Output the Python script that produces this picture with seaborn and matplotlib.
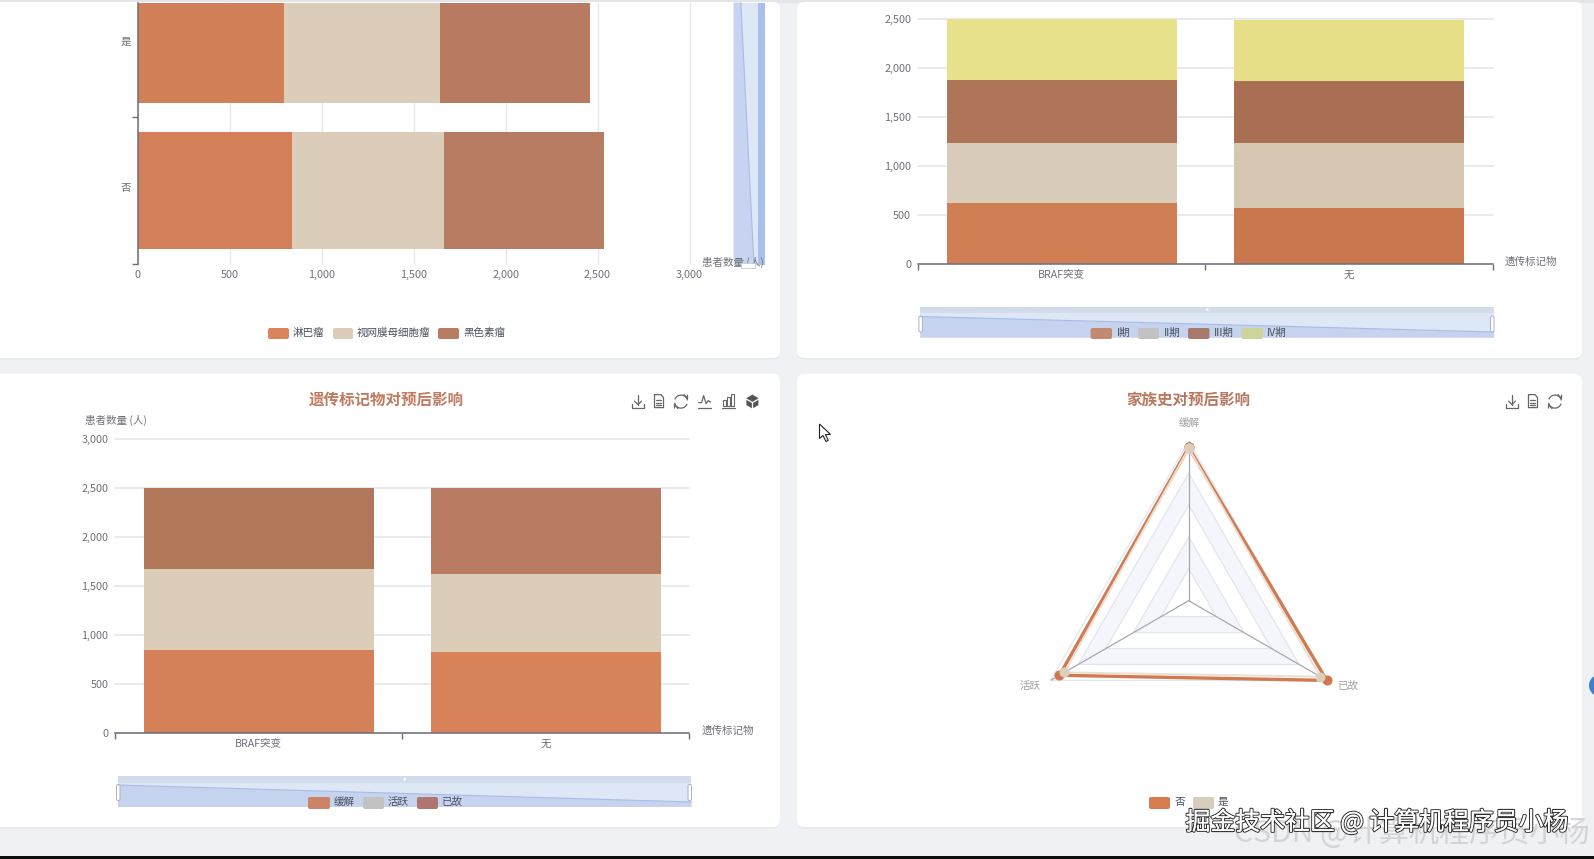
import numpy as np
import pandas as pd
import matplotlib
matplotlib.use("Agg")
import matplotlib.pyplot as plt
import matplotlib.patheffects as pe
from matplotlib.patches import FancyBboxPatch, Polygon, Rectangle, Arc, Circle
from matplotlib.transforms import ScaledTranslation
import seaborn as sns

# Data
family_labels = ["是", "否"]
lymphoma = [793, 840]
retinoblastoma = [851, 826]
melanoma = [817, 870]
cancer_names = ["淋巴瘤", "视网膜母细胞瘤", "黑色素瘤"]

marker_labels = ["BRAF突变", "无"]
stage_1 = [619, 571]
stage_2 = [619, 660]
stage_3 = [643, 636]
stage_4 = [619, 626]
stage_names = ["I期", "II期", "III期", "IV期"]

remission = [849, 828]
active = [821, 795]
dead = [836, 876]
outcome_names = ["缓解", "活跃", "已故"]

radar_no = [962, 936, 1000]
radar_yes = [956, 900, 953]
radar_max = 1000
radar_rings = [200, 400, 600, 800, 1000]
family_names = ["否", "是"]

count_ticks_h = [0, 500, 1000, 1500, 2000, 2500, 3000]
count_ticks_v2 = [0, 500, 1000, 1500, 2000, 2500]
count_ticks_v3 = [0, 500, 1000, 1500, 2000, 2500, 3000]

# one colour per bar, the video frame shades them a little differently
colors_top_left = [["#d17f57", "#d3805a"], ["#dccdbb", "#dccdbb"], ["#b87b62", "#b87c63"]]
colors_top_right = [["#d07f55", "#cb774d"], ["#d9cbb9", "#d5c7b2"], ["#ae7559", "#a96f53"], ["#e8e28c", "#e6df88"]]
colors_bottom_left = [["#d48058", "#d8835a"], ["#dccdb9", "#dccdb9"], ["#b07759", "#b97c62"]]

TEXT = "#6e7079"
GRID = "#e6e8ee"
W, H = 1594, 859

sns.set_theme(style="white")
plt.rcParams["font.family"] = ["Noto Sans CJK SC", "DejaVu Sans"]
plt.rcParams["axes.unicode_minus"] = False

fig = plt.figure(figsize=(W / 100, H / 100), dpi=100, facecolor="#eff1f5")


def px_axes(x0, y0, x1, y1, **kw):
    ax = fig.add_axes([x0 / W, 1 - y1 / H, (x1 - x0) / W, (y1 - y0) / H], **kw)
    ax.set_facecolor("none")
    return ax


def stacked_bars(ax, cats, layers, colors, horizontal=False):
    # cumulative totals, tallest first so the shorter ones sit on top
    totals = np.cumsum(layers, axis=0)
    for total, pair in zip(totals[::-1], colors[::-1]):
        df = pd.DataFrame({"cat": cats, "val": total})
        xy = {"y": "cat", "x": "val"} if horizontal else {"x": "cat", "y": "val"}
        sns.barplot(data=df, hue="cat", palette=pair, saturation=1, width=0.8, errorbar=None,
                    linewidth=0, legend=False, ax=ax, zorder=2, **xy)
    ax.set_xlabel("")
    ax.set_ylabel("")


def style_vertical(ax, ticks, ymax):
    ax.set_xlim(-0.5, 1.5)
    ax.set_ylim(0, ymax)
    ax.set_yticks(ticks)
    ax.set_yticklabels([f"{t:,}" for t in ticks], fontsize=7.8, color=TEXT)
    ax.set_xticks([0, 1])
    ax.set_xticklabels(marker_labels, fontsize=7.6, color=TEXT)
    ax.set_xticks([-0.5, 0.5, 1.5], minor=True)
    ax.tick_params(axis="x", which="major", length=0, pad=4.5)
    ax.tick_params(axis="x", which="minor", length=4, width=1, color=TEXT, bottom=True)
    ax.tick_params(axis="y", length=0, pad=5)
    ax.grid(axis="y", color=GRID, lw=1.3, zorder=0)
    ax.set_axisbelow(True)
    for side in ["top", "left", "right"]:
        ax.spines[side].set_visible(False)
    ax.spines["bottom"].set_color(TEXT)
    ax.spines["bottom"].set_linewidth(1.1)
    ax.spines["bottom"].set_zorder(4)
    for g in ax.get_ygridlines():
        g.set_clip_on(False)


# background layer with the cards
bg = px_axes(0, 0, W, H, zorder=0)
bg.set_xlim(0, W)
bg.set_ylim(H, 0)
bg.axis("off")
bg.add_patch(Rectangle((0, 0), W, 2.5, color="#e4e5e8", lw=0))
bg.add_patch(Rectangle((0, 855.5), W, 4, color="#0c0c0c", lw=0))
for x0, y0, x1, y1 in [(-20, 2, 780, 358), (797, 2, 1582, 358), (-20, 374, 780, 827), (797, 374, 1582, 827)]:
    bg.add_patch(FancyBboxPatch((x0, y0 + 1.5), x1 - x0, y1 - y0, boxstyle="round,pad=0,rounding_size=7", fc="#e7e9ed", ec="none"))
    bg.add_patch(FancyBboxPatch((x0, y0), x1 - x0, y1 - y0, boxstyle="round,pad=0,rounding_size=7", fc="white", ec="none"))

# top left, horizontal stacked bars (cut off by the screenshot)
ax1 = px_axes(137.7, 2.5, 689.5, 263.8, zorder=1)
stacked_bars(ax1, family_labels, [lymphoma, retinoblastoma, melanoma], colors_top_left, horizontal=True)
ax1.set_xlim(0, 3000)
ax1.set_ylim(1.5, -0.285)
ax1.set_xticks(count_ticks_h)
ax1.set_xticklabels([f"{t:,}" for t in count_ticks_h], fontsize=7.8, color=TEXT)
ax1.set_yticks([0, 1])
ax1.set_yticklabels(family_labels, fontsize=7.6, color=TEXT)
ax1.set_yticks([0.5, 1.5], minor=True)
ax1.tick_params(axis="y", which="major", length=0, pad=4.5)
ax1.tick_params(axis="y", which="minor", length=4, width=1, color=TEXT, left=True)
ax1.tick_params(axis="x", length=0, pad=4.5)
ax1.grid(axis="x", color=GRID, lw=1, zorder=0)
ax1.set_axisbelow(True)
for g in ax1.get_xgridlines():
    g.set_clip_on(False)
for t in ax1.get_yticklabels():
    t.set_transform(t.get_transform() + ScaledTranslation(0, 2.5 / 72, fig.dpi_scale_trans))
for side in ["top", "bottom", "right"]:
    ax1.spines[side].set_visible(False)
ax1.spines["left"].set_color(TEXT)
ax1.spines["left"].set_linewidth(1.1)
ax1.spines["left"].set_zorder(4)

# top right, stages by marker
ax2 = px_axes(918, 2.5, 1492.6, 263.8, zorder=1)
stacked_bars(ax2, marker_labels, [stage_1, stage_2, stage_3, stage_4], colors_top_right)
style_vertical(ax2, count_ticks_v2, 2670)

# bottom left, outcome by marker
ax3 = px_axes(115.3, 439.2, 689.4, 733, zorder=1)
stacked_bars(ax3, marker_labels, [remission, active, dead], colors_bottom_left)
style_vertical(ax3, count_ticks_v3, 3000)

# bottom right, radar on a polar axes
cx, cy, rad = 1188.7, 600.7, 159.4
ax4 = px_axes(cx - rad, cy - rad, cx + rad, cy + rad, projection="polar", zorder=1)
ax4.set_theta_zero_location("N")
ax4.set_theta_direction(1)
ax4.set_rlim(0, radar_max)
ax4.axis("off")
angles = np.linspace(0, 2 * np.pi, len(outcome_names), endpoint=False)
closed = np.append(angles, 2 * np.pi)
for i in range(len(radar_rings) - 1, -1, -1):
    ring = [radar_rings[i]] * 4
    ax4.fill(closed, ring, fc="#f4f6fb" if i in (1, 3) else "white", ec="none", zorder=1)
    ax4.plot(closed, ring, color="#e3e6ef", lw=0.9, zorder=1.5)
for a in angles:
    ax4.plot([a, a], [0, radar_max], color="#a8a8ac", lw=0.9, zorder=1.6)
for vals, color, dot, width in [(radar_no, "#cf7a52", "#d0774c", 2.4), (radar_yes, "#ecdfd0", "#dccfbd", 1.4)]:
    sns.lineplot(x=closed, y=vals + vals[:1], sort=False, estimator=None, color=color, lw=width,
                 marker="o", markersize=6.5, markerfacecolor=dot, markeredgecolor=dot, ax=ax4, zorder=3, clip_on=False)
ax4.set_xlabel("")
ax4.set_ylabel("")

# overlay for the dashboard furniture
top = px_axes(0, 0, W, H, zorder=5)
top.set_xlim(0, W)
top.set_ylim(H, 0)
top.axis("off")


def label(x, y, s, size=7.6, color=TEXT, ha="left", **kw):
    return top.text(x, y, s, fontsize=size, color=color, ha=ha, va="center", **kw)


def h_zoom(x0, x1, y0, y1, strip, yl, yr):
    top.add_patch(Rectangle((x0, y0), x1 - x0, y1 - y0, fc="#dde7f6", ec="none"))
    top.add_patch(Rectangle((x0, y0), x1 - x0, strip - y0, fc="#d3dcea", ec="none"))
    top.add_patch(Polygon([(x0, yl), (x1, yr), (x1, y1), (x0, y1)], fc="#c5d3ef", ec="none"))
    top.plot([x0, x1], [yl, yr], color="#a9bce8", lw=0.8)
    for hx in (x0, x1 - 2):
        top.add_patch(FancyBboxPatch((hx - 1.5, yl - 0.5), 3.5, 16, boxstyle="round,pad=0,rounding_size=1.5",
                                     fc="white", ec="#aab4c4", lw=0.7))
    top.add_patch(Circle(((x0 + x1) / 2, (y0 + strip) / 2), 1.3, fc="white", ec="none"))


def legend_row(items, y0, y1, ty):
    for x0, x1, tx, color, name in items:
        top.add_patch(FancyBboxPatch((x0, y0), x1 - x0, y1 - y0, boxstyle="round,pad=0,rounding_size=2", fc=color, ec="none"))
        label(tx, ty, name, size=7.6, color="#4a4f5c")


# vertical data zoom of the first chart, the axis name runs under its handle
top.add_patch(Rectangle((733.6, 2.5), 31, 262.5, fc="#dde7f6", ec="none"))
top.add_patch(Polygon([(733.6, 2.5), (740.8, 2.5), (754, 265), (733.6, 265)], fc="#c6d4f1", ec="none"))
top.plot([740.8, 754], [2.5, 265], color="#a9bce8", lw=0.8)
top.add_patch(Rectangle((758.5, 2.5), 6.1, 262.5, fc="#a9c0ec", ec="none"))
label(702, 262, "患者数量 (人)", zorder=3)
top.add_patch(Rectangle((741, 262.5), 14, 5, fc="white", ec="#c4cad6", lw=0.6, zorder=4))

h_zoom(920.4, 1494, 306.5, 337.5, 312.5, 316.5, 332)
h_zoom(118, 691.5, 775.6, 807, 783, 785, 802)

label(1504.6, 262, "遗传标记物")
label(701.6, 731, "遗传标记物")
label(85, 420.7, "患者数量 (人)")

legend_row([(268, 289, 293, "#d9845a", cancer_names[0]), (333, 353, 357, "#dccdbb", cancer_names[1]),
            (438, 459, 463, "#b97c63", cancer_names[2])], 328, 339, 333)
legend_row([(1090.6, 1112, 1117, "#c48a70", stage_names[0]), (1138, 1159, 1164, "#c2c2c2", stage_names[1]),
            (1188, 1209.5, 1214, "#a87a6c", stage_names[2]), (1241.5, 1263, 1267, "#ccd499", stage_names[3])], 328, 339, 333)
legend_row([(308, 330, 334, "#cc8468", outcome_names[0]), (363, 384, 388, "#c2c2c2", outcome_names[1]),
            (417, 438, 442, "#ae766e", outcome_names[2])], 797, 809, 802)
legend_row([(1149, 1170, 1174.5, "#d97d50", family_names[0]), (1193, 1214, 1218, "#d8ccbc", family_names[1])], 797, 809, 802)

# titles and radar labels
label(386, 400, "遗传标记物对预后影响", size=11.2, color="#c07a5f", ha="center", fontweight="bold")
label(1188, 400, "家族史对预后影响", size=11.2, color="#b8775f", ha="center", fontweight="bold")
label(1189, 422.6, outcome_names[0], color="#a0a0a0", ha="center")
label(1030, 685.5, outcome_names[1], color="#a0a0a0", ha="center")
label(1348, 685.5, outcome_names[2], color="#a0a0a0", ha="center")


# toolbox icons
def line(xs, ys, lw=0.9, color="#666666"):
    top.plot(xs, ys, color=color, lw=lw, solid_capstyle="round")


def icon_download(x, y):
    line([x, x], [y - 7, y + 3])
    line([x - 3.5, x, x + 3.5], [y - 0.5, y + 3, y - 0.5])
    line([x - 6, x - 6, x + 6, x + 6], [y + 2, y + 6, y + 6, y + 2])


def icon_doc(x, y):
    line([x - 4.5, x + 2, x + 4.5, x + 4.5, x - 4.5, x - 4.5], [y - 7, y - 7, y - 4, y + 6, y + 6, y - 7])
    for dy in (-2, 1, 3.5):
        line([x - 2.5, x + 2.5], [y + dy, y + dy])


def icon_refresh(x, y):
    top.add_patch(Arc((x, y), 13, 13, theta1=20, theta2=170, ec="#666666", lw=0.9))
    top.add_patch(Arc((x, y), 13, 13, theta1=200, theta2=350, ec="#666666", lw=0.9))
    line([x + 3, x + 6.5, x + 6.5], [y - 7, y - 3, y - 6.5])
    line([x - 3, x - 6.5, x - 6.5], [y + 7, y + 3, y + 6.5])


def icon_line(x, y):
    line([x - 6, x - 3, x - 1, x + 1.5, x + 3.5, x + 6], [y + 1, y + 1, y - 6, y + 2, y - 1, y + 0.5])
    line([x - 6.5, x + 6.5], [y + 6, y + 6])


def icon_bar(x, y):
    for dx, h in [(-4, 6), (0, 9), (4, 12)]:
        top.add_patch(Rectangle((x + dx - 1.3, y + 4 - h), 2.6, h, fc="none", ec="#666666", lw=0.8))
    line([x - 6.5, x + 6.5], [y + 6, y + 6])


def icon_stack(x, y):
    top.add_patch(Polygon([(x, y - 7), (x + 6, y - 3.5), (x + 6, y + 3.5), (x, y + 7), (x - 6, y + 3.5), (x - 6, y - 3.5)],
                          fc="#555555", ec="none"))
    line([x - 6, x, x + 6], [y - 2.5, y + 1, y - 2.5], color="white")
    line([x, x], [y + 1, y + 7], color="white")


for fn, x in zip([icon_download, icon_doc, icon_refresh, icon_line, icon_bar, icon_stack], [638, 659, 681, 704.6, 728.5, 752.4]):
    fn(x, 401.6)
for fn, x in zip([icon_download, icon_doc, icon_refresh], [1512, 1533, 1555]):
    fn(x, 401.6)

# mouse pointer and the blue helper button at the right edge
top.add_patch(Polygon([(819.5, 424), (819.5, 438.5), (823, 435.5), (826, 441.5), (828.3, 440.3), (825.4, 434.6), (830.5, 434.4)],
                      fc="white", ec="#222222", lw=0.8))
top.add_patch(Circle((1600, 685.5), 11, fc="#3d7ed6", ec="none", clip_on=True))

# watermarks
top.text(1234, 833, "CSDN @计算机程序员小杨", fontsize=21.7, color="#d4d4d4", va="center", ha="left")
top.text(1185.6, 822.5, "掘金技术社区 @ 计算机程序员小杨", fontsize=17.9, color="white", va="center", ha="left",
         path_effects=[pe.withStroke(linewidth=1.6, foreground="#2f2f2f"), pe.Normal()])

fig.savefig("out.png", dpi=100, facecolor=fig.get_facecolor())
